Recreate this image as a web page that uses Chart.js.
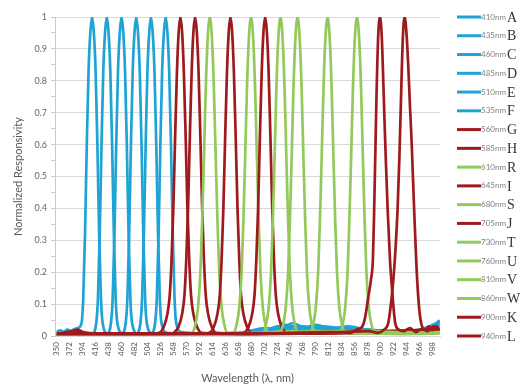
<!DOCTYPE html>
<html><head><meta charset="utf-8">
<script src="https://cdn.jsdelivr.net/npm/chart.js@4/dist/chart.umd.min.js"></script>
<style>html,body{margin:0;padding:0;background:#fff}canvas{display:block}</style>
</head><body>
<canvas id="c" width="530" height="385"></canvas>
<script>
// ---- data ----
const seriesNames = ["410nm","435nm","460nm","485nm","510nm","535nm","560nm","585nm","610nm","645nm","680nm","705nm","730nm","760nm","810nm","860nm","900nm","940nm"];
const seriesLetters = ["A","B","C","D","E","F","G","H","R","I","S","J","T","U","V","W","K","L"];
const seriesColorKeys = ["b","b","b","b","b","b","r","r","g","r","g","r","g","g","g","g","r","r"];

const xTickValues = [350,372,394,416,438,460,482,504,526,548,570,592,614,636,658,680,702,724,746,768,790,812,834,856,878,900,922,944,966,988];
const yTickValues = [0,0.05,0.1,0.15,0.2,0.25,0.3,0.35,0.4,0.45,0.5,0.55,0.6,0.65,0.7,0.75,0.8,0.85,0.9,0.95,1];
const yMajorTicks = [0,0.1,0.2,0.3,0.4,0.5,0.6,0.7,0.8,0.9,1];

const A_nm  = [350,356,362,368,374,380,386,392,395,398,401,404,407,410,413,416,419,422,425,428,436,470,560,680,700,720,745,770,790,815,840,870,900,930,960,985,1000];
const A_val = [0.012,0.018,0.013,0.02,0.016,0.022,0.025,0.04,0.12,0.32,0.6,0.83,0.95,1,0.95,0.83,0.6,0.32,0.12,0.04,0.008,0.004,0.004,0.008,0.02,0.015,0.03,0.02,0.025,0.015,0.02,0.015,0.012,0.01,0.015,0.03,0.045];
const B_nm  = [350,370,390,410,417,420,423,426,429,432,435,438,441,444,447,450,453,462,500,600,690,715,740,765,795,825,855,885,915,950,980,1000];
const B_val = [0.008,0.012,0.01,0.006,0.04,0.12,0.32,0.6,0.83,0.95,1,0.95,0.83,0.6,0.32,0.12,0.04,0.008,0.004,0.005,0.012,0.025,0.035,0.02,0.03,0.02,0.025,0.015,0.012,0.015,0.02,0.04];
const C_nm  = [350,380,420,435,442,445,448,451,454,457,460,463,466,469,472,475,478,487,530,620,700,730,750,775,800,830,860,890,920,955,990,1000];
const C_val = [0.005,0.008,0.004,0.006,0.04,0.12,0.32,0.6,0.83,0.95,1,0.95,0.83,0.6,0.32,0.12,0.04,0.008,0.004,0.006,0.015,0.02,0.04,0.025,0.03,0.025,0.02,0.018,0.014,0.012,0.03,0.05];
const D_nm  = [350,400,450,460,467,470,473,476,479,482,485,488,491,494,497,500,503,512,560,650,710,740,760,790,820,850,880,910,940,970,1000];
const D_val = [0.004,0.004,0.004,0.006,0.04,0.12,0.32,0.6,0.83,0.95,1,0.95,0.83,0.6,0.32,0.12,0.04,0.008,0.005,0.008,0.012,0.03,0.02,0.035,0.02,0.025,0.02,0.015,0.01,0.02,0.045];
const E_nm  = [350,420,475,485,492,495,498,501,504,507,510,513,516,519,522,525,528,537,580,660,705,735,770,800,845,875,905,935,965,1000];
const E_val = [0.004,0.004,0.004,0.006,0.04,0.12,0.32,0.6,0.83,0.95,1,0.95,0.83,0.6,0.32,0.12,0.04,0.01,0.006,0.01,0.025,0.02,0.03,0.02,0.03,0.02,0.015,0.012,0.02,0.04];
const F_nm  = [350,450,500,510,517,520,523,526,529,532,535,538,541,544,547,550,553,562,600,680,720,750,780,810,840,870,900,930,960,1000];
const F_val = [0.004,0.004,0.004,0.006,0.04,0.12,0.32,0.6,0.83,0.95,1,0.95,0.83,0.6,0.32,0.12,0.04,0.012,0.008,0.012,0.02,0.03,0.025,0.02,0.025,0.015,0.012,0.01,0.015,0.035];
const G_nm  = [350,370,385,395,410,500,524,532,538,542,545,548,551,554,557,560,563,566,569,572,575,578,582,588,596,650,750,850,900,950,1000];
const G_val = [0.006,0.01,0.02,0.012,0.006,0.005,0.01,0.03,0.07,0.13,0.24,0.4,0.62,0.82,0.95,1,0.95,0.82,0.62,0.4,0.24,0.13,0.07,0.03,0.01,0.006,0.008,0.01,0.012,0.015,0.02];
const H_nm  = [350,380,390,450,540,549,557,563,567,570,573,576,579,582,585,588,591,594,597,600,603,607,613,621,680,780,880,940,1000];
const H_val = [0.005,0.015,0.012,0.005,0.005,0.01,0.03,0.07,0.13,0.24,0.4,0.62,0.82,0.95,1,0.95,0.82,0.62,0.4,0.24,0.13,0.07,0.03,0.01,0.006,0.008,0.012,0.015,0.02];
const R_nm  = [350,500,570,580,586,590,594,597,600,603,606,610,614,617,620,623,626,630,634,640,660,700,760,820,880,940,1000];
const R_val = [0.004,0.004,0.006,0.01,0.04,0.09,0.2,0.36,0.56,0.77,0.92,1,0.92,0.77,0.56,0.36,0.2,0.09,0.04,0.01,0.012,0.008,0.01,0.012,0.008,0.006,0.008];
const I_nm  = [350,400,500,590,609,617,623,627,630,633,636,639,642,645,648,651,654,657,660,663,667,673,681,720,800,900,1000];
const I_val = [0.005,0.006,0.005,0.006,0.01,0.03,0.07,0.13,0.24,0.4,0.62,0.82,0.95,1,0.95,0.82,0.62,0.4,0.24,0.13,0.07,0.03,0.01,0.008,0.01,0.015,0.02];
const S_nm  = [350,550,640,650,656,660,664,667,670,673,676,680,684,687,690,693,696,700,704,710,730,790,850,910,1000];
const S_val = [0.004,0.005,0.008,0.01,0.04,0.09,0.2,0.36,0.56,0.77,0.92,1,0.92,0.77,0.56,0.36,0.2,0.09,0.04,0.01,0.015,0.012,0.01,0.008,0.01];
const J_nm  = [350,450,600,660,668,676,682,686,689,692,695,698,701,704,707,710,713,716,719,722,726,732,740,800,900,1000];
const J_val = [0.005,0.005,0.006,0.008,0.01,0.03,0.07,0.13,0.24,0.4,0.62,0.82,0.95,1,0.95,0.82,0.62,0.4,0.24,0.13,0.07,0.03,0.01,0.008,0.012,0.02];
const T_nm  = [350,600,690,700,706,710,714,717,720,723,726,730,734,737,740,743,746,750,754,760,790,850,920,1000];
const T_val = [0.004,0.005,0.01,0.01,0.04,0.09,0.2,0.36,0.56,0.77,0.92,1,0.92,0.77,0.56,0.36,0.2,0.09,0.04,0.012,0.015,0.01,0.008,0.01];
const U_nm  = [350,650,720,729,735,739,743,746,749,752,755,759,763,766,769,772,775,779,783,790,830,900,1000];
const U_val = [0.004,0.006,0.01,0.01,0.04,0.09,0.2,0.36,0.56,0.77,0.92,1,0.92,0.77,0.56,0.36,0.2,0.09,0.04,0.012,0.015,0.01,0.01];
const V_nm  = [350,700,770,780,786,790,794,797,800,803,806,810,814,817,820,823,826,830,834,840,880,940,1000];
const V_val = [0.004,0.008,0.012,0.01,0.04,0.09,0.2,0.36,0.56,0.77,0.92,1,0.92,0.77,0.56,0.36,0.2,0.09,0.04,0.012,0.015,0.01,0.012];
const W_nm  = [350,720,815,830,836,840,844,847,850,853,856,860,864,867,870,873,876,880,884,890,930,1000];
const W_val = [0.004,0.008,0.012,0.01,0.04,0.09,0.2,0.36,0.56,0.77,0.92,1,0.92,0.77,0.56,0.36,0.2,0.09,0.04,0.015,0.012,0.01];
const K_nm  = [350,500,700,820,849,859,869,874,879,884,887,889,891,893,896,899,902,905,907,909,912,916,919,922,925,931,939,950,960,970,980,990,1000];
const K_val = [0.006,0.006,0.008,0.012,0.01,0.02,0.03,0.06,0.12,0.18,0.24,0.38,0.56,0.74,0.94,1,0.94,0.78,0.66,0.55,0.4,0.24,0.16,0.09,0.04,0.02,0.015,0.025,0.012,0.022,0.015,0.03,0.02];
const L_nm  = [350,600,800,880,896,906,913,917,921,925,929,932,935,938,941,944,947,950,953,957,961,965,969,976,982,988,994,1000];
const L_val = [0.008,0.008,0.01,0.015,0.01,0.02,0.04,0.09,0.16,0.26,0.4,0.56,0.76,0.94,1,0.95,0.85,0.72,0.6,0.4,0.22,0.1,0.04,0.02,0.03,0.018,0.03,0.025];

const seriesNm  = [A_nm,B_nm,C_nm,D_nm,E_nm,F_nm,G_nm,H_nm,R_nm,I_nm,S_nm,J_nm,T_nm,U_nm,V_nm,W_nm,K_nm,L_nm];
const seriesVal = [A_val,B_val,C_val,D_val,E_val,F_val,G_val,H_val,R_val,I_val,S_val,J_val,T_val,U_val,V_val,W_val,K_val,L_val];

// ---- styles ----
const COLORS = { b: "#1fa3d5", r: "#9e1a1c", g: "#93c95a" };
const FONT = "Lato, 'Open Sans', sans-serif";

const datasets = seriesNames.map((name, i) => ({
  label: name,
  data: seriesNm[i].map((x, j) => ({ x: x, y: seriesVal[i][j] })),
  borderColor: COLORS[seriesColorKeys[i]],
  backgroundColor: COLORS[seriesColorKeys[i]],
  borderWidth: 2.7,
  pointRadius: 0,
  fill: false,
  cubicInterpolationMode: "monotone",
  order: seriesNames.length - i
}));

const legendPlugin = {
  id: "sideLegend",
  afterDraw(chart) {
    const ctx = chart.ctx;
    const area = chart.chartArea;
    const n = seriesNames.length;
    const step = (area.bottom - area.top) / (n - 1);
    ctx.save();
    for (let i = 0; i < n; i++) {
      const y = area.top + i * step;
      ctx.strokeStyle = COLORS[seriesColorKeys[i]];
      ctx.lineWidth = 3;
      ctx.beginPath();
      ctx.moveTo(area.right + 17, y);
      ctx.lineTo(area.right + 41, y);
      ctx.stroke();
      ctx.fillStyle = "#808080";
      ctx.font = "8px " + FONT;
      ctx.textBaseline = "middle";
      ctx.textAlign = "left";
      ctx.fillText(seriesNames[i], area.right + 41, y);
      ctx.fillStyle = "#333333";
      ctx.font = "14px 'Liberation Serif', 'DejaVu Serif', serif";
      ctx.fillText(seriesLetters[i], area.right + 67, y + 1);
    }
    ctx.restore();
  }
};

new Chart(document.getElementById("c"), {
  type: "line",
  data: { datasets: datasets },
  plugins: [legendPlugin],
  options: {
    responsive: false,
    animation: false,
    layout: { padding: { left: 0, right: 90, top: 17, bottom: 0 } },
    plugins: { legend: { display: false }, tooltip: { enabled: false } },
    scales: {
      x: {
        type: "linear",
        min: 347,
        max: 1001,
        afterBuildTicks(scale) { scale.ticks = xTickValues.map(v => ({ value: v })); },
        afterFit(scale) { scale.height = 49; },
        grid: { display: false, drawTicks: false },
        border: { display: true, color: "#d9d9d9" },
        ticks: {
          autoSkip: false, minRotation: 90, maxRotation: 90, padding: 6,
          color: "#595959", font: { family: FONT, size: 8 },
          callback: v => String(v)
        },
        title: {
          display: true, text: "Wavelength (λ, nm)", color: "#595959",
          font: { family: FONT, size: 11 }, padding: { top: 0, bottom: 0 }
        }
      },
      y: {
        type: "linear",
        min: 0,
        max: 1,
        afterBuildTicks(scale) { scale.ticks = yTickValues.map(v => ({ value: v })); },
        afterFit(scale) { scale.width = 55; },
        grid: {
          color: c => (c.tick && yMajorTicks.some(m => Math.abs(m - c.tick.value) < 1e-6)) ? "#d9d9d9" : "rgba(0,0,0,0)",
          tickColor: "#c8c8c8",
          tickLength: 4
        },
        border: { display: true, color: "#c5d6a0" },
        ticks: {
          autoSkip: false, padding: 4, color: "#666666", font: { family: FONT, size: 9 },
          callback: v => yMajorTicks.some(m => Math.abs(m - v) < 1e-6) ? String(Number(v.toFixed(2))) : ""
        },
        title: {
          display: true, text: "Normalized Responsivity", color: "#595959",
          font: { family: FONT, size: 11 }, padding: { top: 12, bottom: 0 }
        }
      }
    }
  }
});
</script>
</body></html>
